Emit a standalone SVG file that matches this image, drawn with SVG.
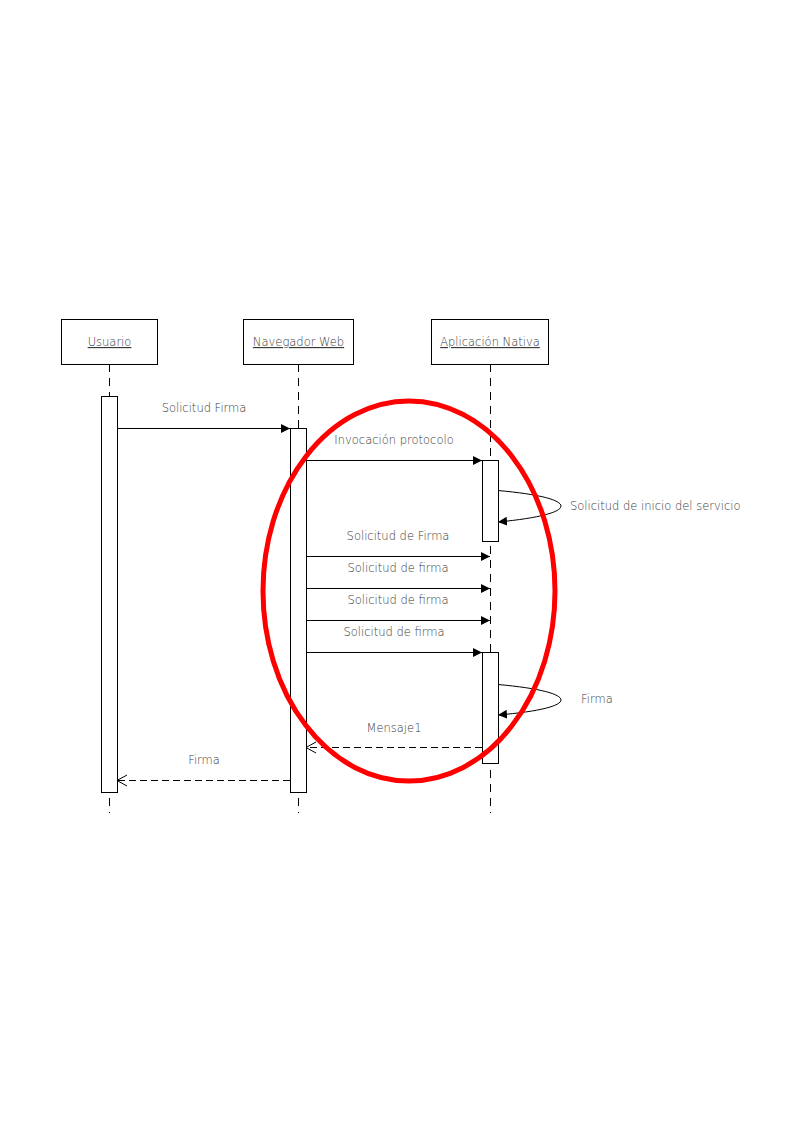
<svg xmlns="http://www.w3.org/2000/svg" width="794" height="1123" viewBox="0 0 794 1123">
<style>
.box{fill:#fff;stroke:#000;stroke-width:1}
.life{stroke:#000;stroke-width:1;stroke-dasharray:8,6;fill:none}
.act{fill:#fff;stroke:#000;stroke-width:1}
.msg{stroke:#000;stroke-width:1;fill:none}
.ret{stroke:#000;stroke-width:1;fill:none;stroke-dasharray:7,4}
.t{font-family:"DejaVu Sans","Liberation Sans",sans-serif;font-weight:200;font-size:11.5px;fill:#3a3a3a;text-anchor:middle}
.h{text-decoration:underline}
</style>
<defs>
<marker id="fa" markerWidth="10" markerHeight="10" refX="9" refY="5" orient="auto" markerUnits="userSpaceOnUse">
<path d="M0,0.5 L9,5 L0,9.5 Z" fill="#000"/>
</marker>
<marker id="oa" markerWidth="12" markerHeight="14" refX="10" refY="6" orient="auto" markerUnits="userSpaceOnUse">
<path d="M0,0.5 L10,6 L0,11.5" fill="none" stroke="#000" stroke-width="1"/>
</marker>
</defs>
<rect width="794" height="1123" fill="#fff"/>
<g id="lifelines">
<line class="life" x1="109.5" y1="364" x2="109.5" y2="813"/>
<line class="life" x1="298.5" y1="364" x2="298.5" y2="813"/>
<line class="life" x1="490.5" y1="364" x2="490.5" y2="813"/>
</g>
<g id="usuario">
<rect class="box" x="61.5" y="319.5" width="96" height="45"/>
<text class="t h" x="109.5" y="346">Usuario</text>
<rect class="act" x="101.5" y="396.5" width="16" height="396"/>
</g>
<g id="navegador">
<rect class="box" x="243.5" y="319.5" width="110" height="45"/>
<text class="t h" x="298.5" y="346">Navegador Web</text>
<rect class="act" x="290.5" y="428.5" width="16" height="364"/>
</g>
<g id="aplicacion">
<rect class="box" x="431.5" y="319.5" width="117" height="45"/>
<text class="t h" x="490" y="346">Aplicación Nativa</text>
<rect class="act" x="482.5" y="460.5" width="16" height="81"/>
<rect class="act" x="482.5" y="652.5" width="16" height="111"/>
</g>
<g id="connectors">
<line class="msg" x1="117" y1="428.5" x2="290" y2="428.5" marker-end="url(#fa)"/>
<line class="msg" x1="306" y1="460.5" x2="482" y2="460.5" marker-end="url(#fa)"/>
<path class="msg" d="M498,490.5 C582,498 582,514 498,522" marker-end="url(#fa)"/>
<line class="msg" x1="306" y1="556.5" x2="490" y2="556.5" marker-end="url(#fa)"/>
<line class="msg" x1="306" y1="588.5" x2="490" y2="588.5" marker-end="url(#fa)"/>
<line class="msg" x1="306" y1="620.5" x2="490" y2="620.5" marker-end="url(#fa)"/>
<line class="msg" x1="306" y1="652.5" x2="482" y2="652.5" marker-end="url(#fa)"/>
<path class="msg" d="M498,684.5 C582,692 582,708 498,715" marker-end="url(#fa)"/>
<line class="ret" x1="482" y1="747.5" x2="306" y2="747.5" marker-end="url(#oa)"/>
<line class="ret" x1="290" y1="780.5" x2="117" y2="780.5" marker-end="url(#oa)"/>
</g>
<g id="labels">
<text class="t" x="204" y="412">Solicitud Firma</text>
<text class="t" x="394" y="444">Invocación protocolo</text>
<text class="t" x="570" y="510" style="text-anchor:start">Solicitud de inicio del servicio</text>
<text class="t" x="398" y="540">Solicitud de Firma</text>
<text class="t" x="398" y="572">Solicitud de firma</text>
<text class="t" x="398" y="604">Solicitud de firma</text>
<text class="t" x="394" y="636">Solicitud de firma</text>
<text class="t" x="581" y="703" style="text-anchor:start">Firma</text>
<text class="t" x="394" y="732">Mensaje1</text>
<text class="t" x="204" y="764">Firma</text>
</g>
<ellipse id="highlight" cx="409" cy="591" rx="146" ry="190" fill="none" stroke="#f00" stroke-width="5"/>
</svg>
